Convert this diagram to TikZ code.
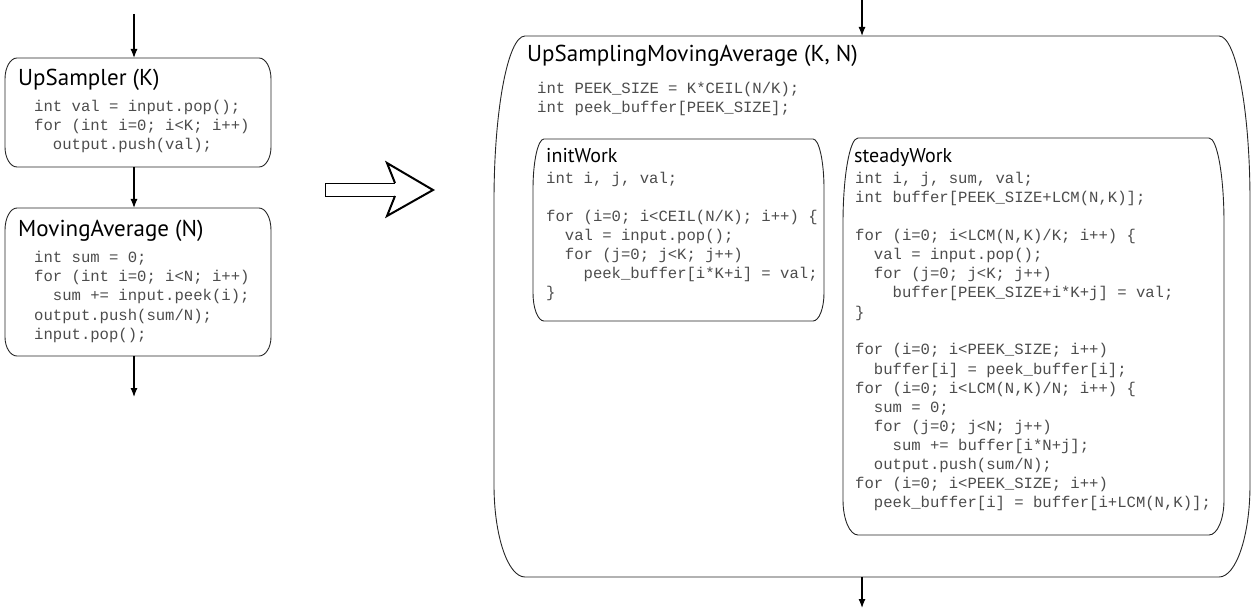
\documentclass[tikz,border=0pt]{standalone}
\usepackage{fontspec}
\newfontfamily\titlefont{PT Sans}
\newfontfamily\codefont{Liberation Mono}
\usetikzlibrary{arrows.meta}

% outline of a filter box: node, x radius, top y radius, bottom y radius
\newcommand{\filterbox}[4]{%
  \draw[boxline] ([xshift=#2]#1.north west) -- ([xshift=-#2]#1.north east)
    arc[start angle=90, end angle=0, x radius=#2, y radius=#3]
    -- ([yshift=#4]#1.south east)
    arc[start angle=0, end angle=-90, x radius=#2, y radius=#4]
    -- ([xshift=#2]#1.south west)
    arc[start angle=270, end angle=180, x radius=#2, y radius=#4]
    -- ([yshift=-#3]#1.north west)
    arc[start angle=180, end angle=90, x radius=#2, y radius=#3] -- cycle;}

\begin{document}
\begin{tikzpicture}[x=1pt, y=1pt,
  boxframe/.style={inner sep=0pt, outer sep=0pt, anchor=north west},
  boxline/.style={line width=0.9pt, black!85},
  flow/.style={line width=1.2pt, -{Latex[length=9pt, width=7pt]}},
  titletext/.style={font=\titlefont\fontsize{23}{27}\selectfont, inner sep=0pt, anchor=base west},
  subtitletext/.style={font=\titlefont\fontsize{20}{24}\selectfont, inner sep=0pt, anchor=base west},
  codetext/.style={font=\codefont\fontsize{15.6}{19}\selectfont, text=black!70, inner sep=0pt, anchor=base west}]
  \useasboundingbox (0,0) rectangle (1253,-612);

  % parameters
  \def\pitch{19}     % line spacing of the code

  % left: the two filters
  \node[boxframe, minimum width=266pt, minimum height=109pt] (upsampler) at (5,-58) {};
  \node[boxframe, minimum width=266pt, minimum height=148pt] (movavg) at (5,-208) {};
  \filterbox{upsampler}{12}{21}{20}
  \filterbox{movavg}{12}{22}{19}

  \node[titletext] (upsampler-t) at (18,-86) {UpSampler (K)};
  \foreach \t [count=\k from 0] in {{int val = input.pop();}, {for (int i=0; i<K; i++)},
      {~~output.push(val);}}
    \node[codetext] (upsampler-\k) at (34,{-112-\k*\pitch}) {\t};

  \node[titletext] (movavg-t) at (18,-237) {MovingAverage (N)};
  \foreach \t [count=\k from 0] in {{int sum = 0;}, {for (int i=0; i<N; i++)},
      {~~sum += input.peek(i);}, {output.push(sum/N);}, {input.pop();}}
    \node[codetext] (movavg-\k) at (34,{-263-\k*\pitch}) {\t};

  % arrows of the left pipeline
  \coordinate (in-l) at (134,-14);
  \coordinate (out-l) at (134,-397);
  \draw[flow] (in-l) -- (in-l |- upsampler.north);
  \draw[flow] (in-l |- upsampler.south) -- (in-l |- movavg.north);
  \draw[flow] (in-l |- movavg.south) -- (out-l);

  % hollow arrow
  \draw[line width=0.8pt] (395,-183) -- (325,-183) -- (325,-196) -- (395,-196);
  \draw[line width=2pt, line join=miter] (395,-183) -- (387,-163) -- (433,-190)
    -- (387,-216) -- (395,-196);

  % right: the fused filter
  \node[boxframe, minimum width=756pt, minimum height=541pt] (upmovavg) at (494,-36) {};
  \filterbox{upmovavg}{31}{165}{92}
  \node[titletext] (upmovavg-t) at (527,-62) {UpSamplingMovingAverage (K, N)};
  \foreach \t [count=\k from 0] in {{int PEEK\_SIZE = K*CEIL(N/K);}, {int peek\_buffer[PEEK\_SIZE];}}
    \node[codetext] (upmovavg-\k) at (537,{-94-\k*\pitch}) {\t};

  % initWork
  \node[boxframe, minimum width=291pt, minimum height=182pt] (initwork) at (533,-139) {};
  \filterbox{initwork}{11}{50}{28}
  \node[subtitletext] (initwork-t) at (546,-163) {initWork};
  \foreach \t [count=\k from 0] in {{int i, j, val;}, {}, {for (i=0; i<CEIL(N/K); i++) \{},
      {~~val = input.pop();}, {~~for (j=0; j<K; j++)}, {~~~~peek\_buffer[i*K+i] = val;}, {\}}}
    \node[codetext] (initwork-\k) at (546,{-184-\k*\pitch}) {\t};

  % steadyWork
  \node[boxframe, minimum width=381pt, minimum height=397pt] (steadywork) at (843,-138) {};
  \filterbox{steadywork}{15}{85}{35}
  \node[subtitletext] (steadywork-t) at (854,-163) {steadyWork};
  \foreach \t [count=\k from 0] in {{int i, j, sum, val;}, {int buffer[PEEK\_SIZE+LCM(N,K)];}, {},
      {for (i=0; i<LCM(N,K)/K; i++) \{}, {~~val = input.pop();}, {~~for (j=0; j<K; j++)},
      {~~~~buffer[PEEK\_SIZE+i*K+j] = val;}, {\}}, {},
      {for (i=0; i<PEEK\_SIZE; i++)}, {~~buffer[i] = peek\_buffer[i];},
      {for (i=0; i<LCM(N,K)/N; i++) \{}, {~~sum = 0;}, {~~for (j=0; j<N; j++)},
      {~~~~sum += buffer[i*N+j];}, {~~output.push(sum/N);},
      {for (i=0; i<PEEK\_SIZE; i++)}, {~~peek\_buffer[i] = buffer[i+LCM(N,K)];}}
    \node[codetext] (steadywork-\k) at (855,{-184-\k*\pitch}) {\t};

  % arrows of the fused filter
  \coordinate (in-r) at (862,0);
  \coordinate (out-r) at (862,-608);
  \draw[flow] (in-r) -- (in-r |- upmovavg.north);
  \draw[flow] (in-r |- upmovavg.south) -- (out-r);
\end{tikzpicture}
\end{document}
